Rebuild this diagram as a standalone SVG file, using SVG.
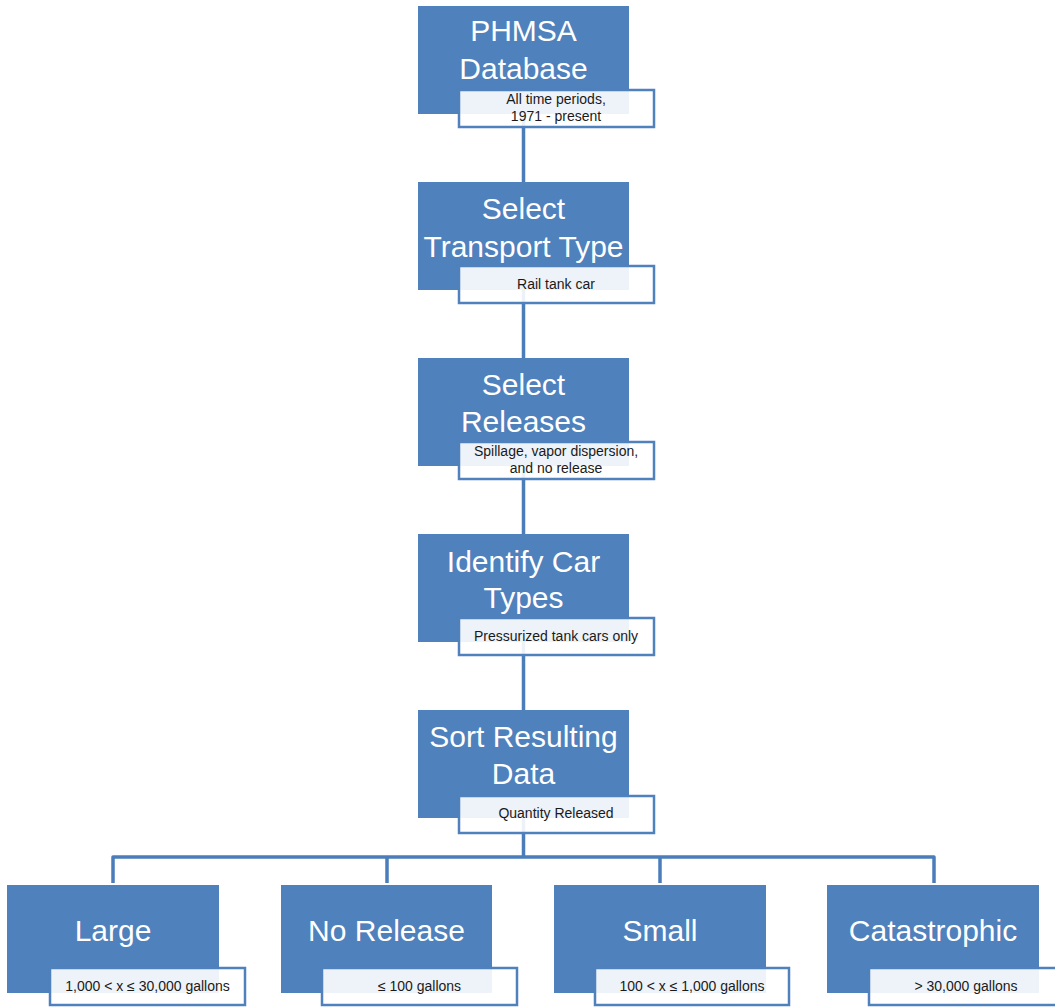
<svg xmlns="http://www.w3.org/2000/svg" width="1055" height="1007" viewBox="0 0 1055 1007">
<style>
.box{fill:#4F81BD;}
.sub{fill:#ffffff;fill-opacity:0.9;stroke:#4F81BD;stroke-width:2.5;}
.t{font-family:"Liberation Sans",Arial,sans-serif;font-size:30px;fill:#ffffff;text-anchor:middle;}
.s{font-family:"Liberation Sans",Arial,sans-serif;font-size:14px;fill:#1a1a1a;text-anchor:middle;}
.c{fill:none;stroke:#4A7DBA;stroke-width:3.5;stroke-linejoin:round;}
</style>
<rect width="1055" height="1007" fill="#ffffff"/>
<g id="connectors">
<path class="c" d="M523.5,114 V182 M523.5,290 V358 M523.5,466 V534 M523.5,642 V710 M523.5,818 V857"/>
<path class="c" d="M113,883 V857 H934 V883 M387,857 V883 M660,857 V883"/>
</g>
<g id="phmsa">
<rect class="box" x="418" y="6" width="211" height="108"/>
<text class="t" x="523.5" y="41">PHMSA</text>
<text class="t" x="523.5" y="79">Database</text>
<rect class="sub" x="459" y="90" width="195" height="37"/>
<text class="s" x="556" y="104">All time periods,</text>
<text class="s" x="556" y="121">1971 - present</text>
</g>
<g id="transport">
<rect class="box" x="418" y="182" width="211" height="108"/>
<text class="t" x="523.5" y="219">Select</text>
<text class="t" x="523.5" y="257">Transport Type</text>
<rect class="sub" x="459" y="266" width="195" height="37"/>
<text class="s" x="556" y="289">Rail tank car</text>
</g>
<g id="releases">
<rect class="box" x="418" y="358" width="211" height="108"/>
<text class="t" x="523.5" y="395">Select</text>
<text class="t" x="523.5" y="432">Releases</text>
<rect class="sub" x="459" y="442" width="195" height="37"/>
<text class="s" x="556" y="456">Spillage, vapor dispersion,</text>
<text class="s" x="556" y="473">and no release</text>
</g>
<g id="cartypes">
<rect class="box" x="418" y="534" width="211" height="108"/>
<text class="t" x="523.5" y="572">Identify Car</text>
<text class="t" x="523.5" y="608">Types</text>
<rect class="sub" x="459" y="618" width="195" height="37"/>
<text class="s" x="556" y="641">Pressurized tank cars only</text>
</g>
<g id="sort">
<rect class="box" x="418" y="710" width="211" height="108"/>
<text class="t" x="523.5" y="747">Sort Resulting</text>
<text class="t" x="523.5" y="784">Data</text>
<rect class="sub" x="459" y="796" width="195" height="37"/>
<text class="s" x="556" y="818">Quantity Released</text>
</g>
<g id="large">
<rect class="box" x="7" y="885" width="212" height="108"/>
<text class="t" x="113" y="941">Large</text>
<rect class="sub" x="50" y="968" width="195" height="37"/>
<text class="s" x="147.5" y="991">1,000 &lt; x ≤ 30,000 gallons</text>
</g>
<g id="norelease">
<rect class="box" x="281" y="885" width="211" height="108"/>
<text class="t" x="386.5" y="941">No Release</text>
<rect class="sub" x="322" y="968" width="195" height="37"/>
<text class="s" x="419.5" y="991">≤ 100 gallons</text>
</g>
<g id="small">
<rect class="box" x="554" y="885" width="212" height="108"/>
<text class="t" x="660" y="941">Small</text>
<rect class="sub" x="595" y="968" width="194" height="37"/>
<text class="s" x="692" y="991">100 &lt; x ≤ 1,000 gallons</text>
</g>
<g id="catastrophic">
<rect class="box" x="827" y="885" width="212" height="108"/>
<text class="t" x="933" y="941">Catastrophic</text>
<rect class="sub" x="869" y="968" width="195" height="37"/>
<text class="s" x="966" y="991">&gt; 30,000 gallons</text>
</g>
</svg>
